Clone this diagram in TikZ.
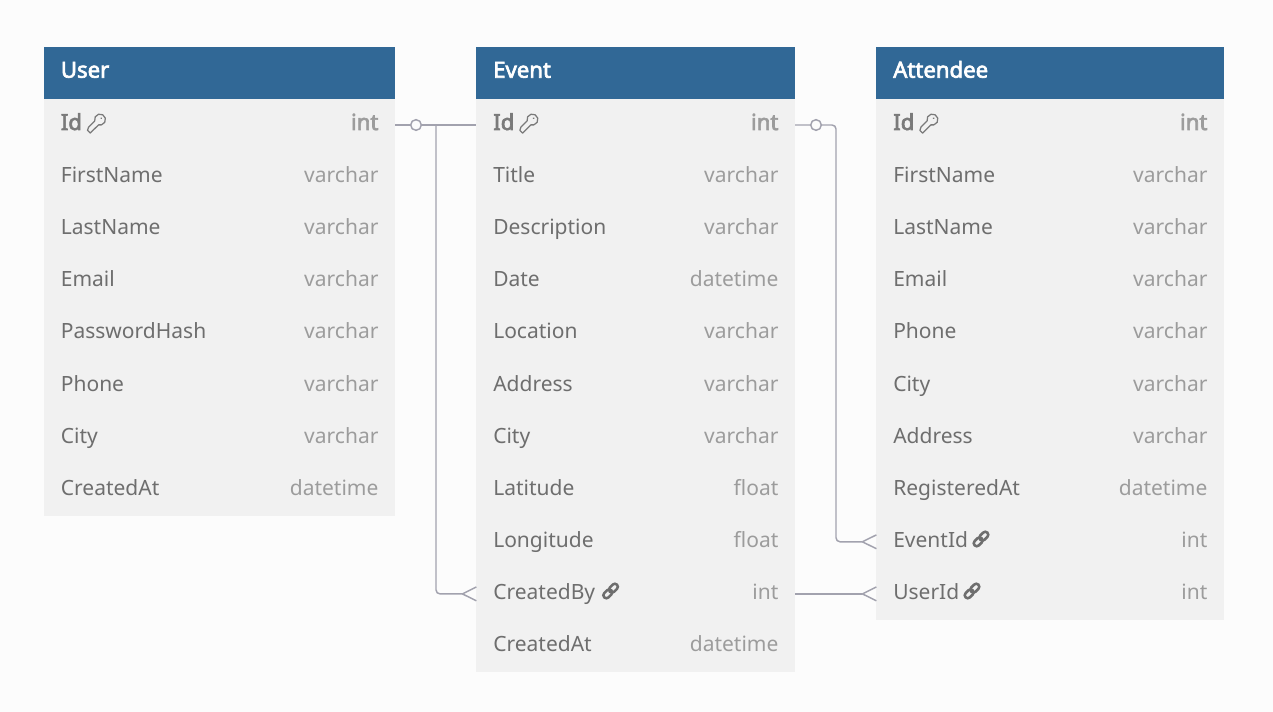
\documentclass[tikz,border=0pt]{standalone}
\usepackage{fontspec}
\setmainfont{Noto Sans}[AutoFakeBold=3]
\definecolor{pagebg}{HTML}{FCFCFC}
\definecolor{headbg}{HTML}{316896}
\definecolor{rowbg}{HTML}{F1F1F1}
\definecolor{lab}{HTML}{6E6E6E}
\definecolor{typ}{HTML}{9C9C9C}
\definecolor{keyc}{HTML}{7A7A7A}
\definecolor{conn}{HTML}{A2A2AE}
\newcommand{\fs}{\fontsize{15.75pt}{18pt}\selectfont}
\newcommand{\fb}{\fontsize{16.6pt}{18pt}\selectfont\bfseries}
\tikzset{
  x=0.75pt,y=-0.75pt,
  headbox/.style={fill=headbg,draw=none,inner sep=0,outer sep=0,minimum height=39pt,anchor=north west},
  rowbox/.style={fill=rowbg,draw=none,inner sep=0,outer sep=0,minimum height=39.08pt,anchor=west},
  headtext/.style={text=white,font=\fb,inner sep=0,anchor=base west},
  labeltext/.style={text=lab,font=\fs,inner sep=0,anchor=base west},
  typetext/.style={text=typ,font=\fs,inner sep=0,anchor=base east},
  pklabel/.style={text=keyc,font=\fb,inner sep=0,anchor=base west},
  pktype/.style={text=typ,font=\fb,inner sep=0,anchor=base east},
  connector/.style={draw=conn,line width=1.1pt,rounded corners=3pt},
  fork/.style={draw=conn,line width=1.1pt},
  zeromark/.style={circle,draw=conn,fill=pagebg,line width=1.1pt,inner sep=0,minimum size=8pt},
  keyicon/.pic={
    \begin{scope}[x=0.75pt,y=0.75pt,rotate=45,draw=keyc,line width=0.95pt,line join=round]
      \draw (-4.8,2.7) arc[start angle=150,end angle=-150,radius=5.5]
        -- (-13,-2.7) -- (-16.5,-2.7) -- (-16.5,1.2) -- (-13.5,2.7) -- cycle;
      \fill[keyc] (1.8,0) circle[radius=1];
    \end{scope}},
  linkicon/.pic={
    \begin{scope}[x=0.75pt,y=0.75pt,rotate=45,draw=lab,line width=1.9pt]
      \draw[rounded corners=2.2pt] (-1,-3) rectangle (9,3);
      \draw[rounded corners=2.2pt] (-9,-3) rectangle (1,3);
    \end{scope}},
}
% \Row{node name}{x}{width px}{row index}{label}{type}
\newcommand{\Row}[6]{%
  \pgfmathsetmacro{\rowy}{125+52.1*#4}%
  \pgfmathsetmacro{\roww}{#3*0.75}%
  \node[rowbox,minimum width=\roww pt] (#1) at (#2,\rowy) {};
  \node[labeltext] (#1-l) at (#2+16.6,\rowy+5.6) {#5};
  \node[typetext] (#1-t) at (#2+#3-16.3,\rowy+5.6) {#6};
}
\newcommand{\PkRow}[4]{%
  \pgfmathsetmacro{\roww}{#3*0.75}%
  \node[rowbox,minimum width=\roww pt] (#1) at (#2,125) {};
  \node[pklabel] (#1-l) at (#2+16.6,130) {Id};
  \node[pktype] (#1-t) at (#2+#3-16.3,130) {#4};
  \pic at (#2+56,119.5) {keyicon};
}
\newcommand{\Head}[4]{%
  \pgfmathsetmacro{\roww}{#3*0.75}%
  \node[headbox,minimum width=\roww pt] (#1) at (#2,47) {};
  \node[headtext] (#1-l) at (#2+16.6,77.7) {#4};
}
\begin{document}
\begin{tikzpicture}
\useasboundingbox (0,0) rectangle (1273,712);
\fill[pagebg] (0,0) rectangle (1273,712);

% User
\Head{user}{44}{351}{User}
\PkRow{userid}{44}{351}{int}
\Row{u1}{44}{351}{1}{FirstName}{varchar}
\Row{u2}{44}{351}{2}{LastName}{varchar}
\Row{u3}{44}{351}{3}{Email}{varchar}
\Row{u4}{44}{351}{4}{PasswordHash}{varchar}
\Row{u5}{44}{351}{5}{Phone}{varchar}
\Row{u6}{44}{351}{6}{City}{varchar}
\Row{u7}{44}{351}{7}{CreatedAt}{datetime}

% Event
\Head{event}{476.4}{318.6}{Event}
\PkRow{eventid}{476.4}{318.6}{int}
\Row{e1}{476.4}{318.6}{1}{Title}{varchar}
\Row{e2}{476.4}{318.6}{2}{Description}{varchar}
\Row{e3}{476.4}{318.6}{3}{Date}{datetime}
\Row{e4}{476.4}{318.6}{4}{Location}{varchar}
\Row{e5}{476.4}{318.6}{5}{Address}{varchar}
\Row{e6}{476.4}{318.6}{6}{City}{varchar}
\Row{e7}{476.4}{318.6}{7}{Latitude}{float}
\Row{e8}{476.4}{318.6}{8}{Longitude}{float}
\Row{ecreatedby}{476.4}{318.6}{9}{CreatedBy}{int}
\Row{e10}{476.4}{318.6}{10}{CreatedAt}{datetime}
\pic at (610.6,591) {linkicon};

% Attendee
\Head{att}{876.4}{347.6}{Attendee}
\PkRow{attid}{876.4}{347.6}{int}
\Row{a1}{876.4}{347.6}{1}{FirstName}{varchar}
\Row{a2}{876.4}{347.6}{2}{LastName}{varchar}
\Row{a3}{876.4}{347.6}{3}{Email}{varchar}
\Row{a4}{876.4}{347.6}{4}{Phone}{varchar}
\Row{a5}{876.4}{347.6}{5}{City}{varchar}
\Row{a6}{876.4}{347.6}{6}{Address}{varchar}
\Row{a7}{876.4}{347.6}{7}{RegisteredAt}{datetime}
\Row{aeventid}{876.4}{347.6}{8}{EventId}{int}
\Row{auserid}{876.4}{347.6}{9}{UserId}{int}
\pic at (981,539) {linkicon};
\pic at (972,591) {linkicon};

% Connectors
\coordinate (fa) at ([xshift=-10.5pt]ecreatedby.west);
\draw[connector] (userid.east) -- (eventid.west);
\draw[connector] ([xshift=30.75pt]userid.east) |- (fa);
\draw[fork] (fa) -- ([yshift=5.2pt]ecreatedby.west);
\draw[fork] (fa) -- ([yshift=-5.2pt]ecreatedby.west);
\node[zeromark] (z1) at ([xshift=15.75pt]userid.east) {};

\coordinate (fb) at ([xshift=-10.5pt]aeventid.west);
\draw[connector] (eventid.east) -- ([xshift=30.75pt]eventid.east) |- (fb);
\draw[fork] (fb) -- ([yshift=5.2pt]aeventid.west);
\draw[fork] (fb) -- ([yshift=-5.2pt]aeventid.west);
\node[zeromark] (z2) at ([xshift=15.75pt]eventid.east) {};

\coordinate (fc) at ([xshift=-10.5pt]auserid.west);
\draw[connector] (ecreatedby.east) -- (fc);
\draw[fork] (fc) -- ([yshift=5.2pt]auserid.west);
\draw[fork] (fc) -- ([yshift=-5.2pt]auserid.west);
\end{tikzpicture}
\end{document}
